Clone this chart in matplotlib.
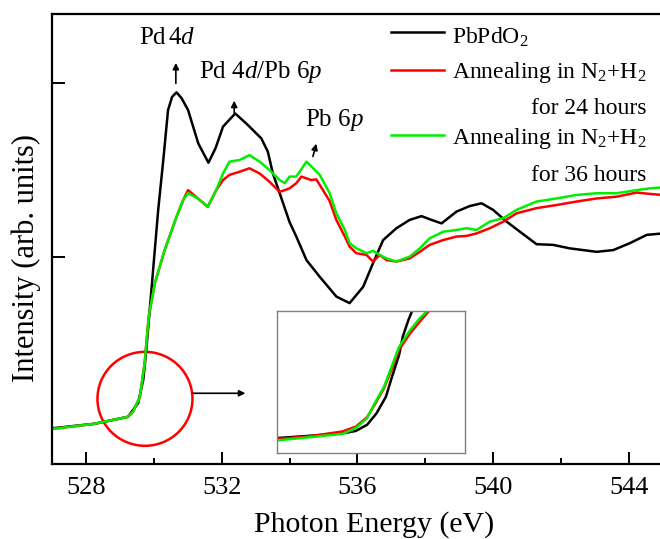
import matplotlib
matplotlib.use("Agg")
import matplotlib.pyplot as plt
from matplotlib.patches import Ellipse
from matplotlib.lines import Line2D

plt.rcParams['font.family'] = ['Liberation Serif', 'DejaVu Serif']
plt.rcParams['mathtext.fontset'] = 'custom'
plt.rcParams['mathtext.rm'] = 'Liberation Serif'
plt.rcParams['mathtext.it'] = 'Liberation Serif:italic'

# PbPdO2 (black)
e_pbpdo2 = [527.0, 528.25, 529.24, 529.54, 529.69, 529.78, 530.13, 530.28, 530.42, 530.54,
            530.67, 530.82, 531.01, 531.31, 531.61, 531.82, 532.04, 532.40, 532.77, 533.17,
            533.36, 533.51, 533.71, 534.00, 534.20, 534.50, 534.89, 535.38, 535.77, 536.17,
            536.46, 536.76, 537.15, 537.54, 537.89, 538.13, 538.48, 538.92, 539.31, 539.66,
            540.00, 540.40, 540.79, 541.28, 541.77, 542.26, 543.05, 543.54, 544.03, 544.53, 545.0]
i_pbpdo2 = [0.005, 0.018, 0.038, 0.078, 0.145, 0.231, 0.635, 0.779, 0.923, 0.961,
            0.974, 0.957, 0.923, 0.827, 0.771, 0.813, 0.875, 0.913, 0.880, 0.841,
            0.803, 0.740, 0.683, 0.600, 0.558, 0.490, 0.442, 0.385, 0.366, 0.413,
            0.481, 0.548, 0.582, 0.606, 0.617, 0.608, 0.596, 0.630, 0.646, 0.654,
            0.635, 0.601, 0.572, 0.536, 0.534, 0.524, 0.514, 0.519, 0.539, 0.563, 0.567]

# N2+H2, 24 h (red)
e_24h = [527.0, 528.25, 529.24, 529.39, 529.59, 529.73, 529.85, 530.03, 530.32, 530.67,
         530.87, 531.01, 531.30, 531.59, 531.84, 532.04, 532.23, 532.53, 532.82, 533.12,
         533.41, 533.71, 533.86, 534.00, 534.20, 534.35, 534.64, 534.79, 535.18, 535.38,
         535.63, 535.77, 535.97, 536.27, 536.46, 536.66, 536.86, 537.15, 537.54, 537.84,
         538.13, 538.53, 538.92, 539.22, 539.51, 539.90, 540.30, 540.69, 541.28, 541.87,
         542.46, 543.05, 543.64, 544.23, 544.62, 545.0]
i_24h = [0.003, 0.018, 0.038, 0.053, 0.096, 0.193, 0.327, 0.423, 0.519, 0.615,
         0.664, 0.692, 0.668, 0.644, 0.692, 0.721, 0.736, 0.745, 0.755, 0.740,
         0.716, 0.687, 0.692, 0.697, 0.712, 0.731, 0.721, 0.723, 0.661, 0.606,
         0.558, 0.529, 0.510, 0.505, 0.486, 0.505, 0.490, 0.486, 0.495, 0.514,
         0.534, 0.548, 0.558, 0.560, 0.567, 0.582, 0.601, 0.625, 0.640, 0.649,
         0.659, 0.668, 0.673, 0.685, 0.681, 0.678]

# N2+H2, 36 h (green)
e_36h = [527.0, 528.25, 529.24, 529.39, 529.59, 529.73, 529.85, 530.03, 530.32, 530.67,
         530.87, 531.01, 531.30, 531.59, 531.84, 532.04, 532.23, 532.53, 532.82, 533.12,
         533.41, 533.71, 533.86, 534.00, 534.20, 534.50, 534.89, 535.18, 535.38, 535.63,
         535.77, 535.97, 536.27, 536.46, 536.66, 536.86, 537.15, 537.54, 537.84, 538.13,
         538.53, 538.92, 539.22, 539.51, 539.90, 540.30, 540.69, 541.28, 541.87, 542.46,
         543.05, 543.64, 544.23, 544.62, 545.0]
i_36h = [0.003, 0.018, 0.038, 0.053, 0.096, 0.193, 0.327, 0.423, 0.519, 0.615,
         0.664, 0.683, 0.668, 0.644, 0.692, 0.740, 0.774, 0.779, 0.793, 0.774,
         0.750, 0.721, 0.712, 0.731, 0.731, 0.774, 0.736, 0.684, 0.625, 0.577,
         0.539, 0.524, 0.510, 0.517, 0.505, 0.495, 0.486, 0.500, 0.524, 0.553,
         0.572, 0.577, 0.582, 0.577, 0.601, 0.611, 0.635, 0.659, 0.668, 0.678,
         0.683, 0.683, 0.692, 0.697, 0.700]

# inset: pre-edge region, zoomed
ins_e_black = [528.80, 528.98, 529.15, 529.22, 529.28, 529.33, 529.38, 529.41, 529.45, 529.47, 529.50, 529.52]
ins_i_black = [0.032, 0.037, 0.042, 0.047, 0.060, 0.084, 0.119, 0.158, 0.207, 0.246, 0.281, 0.300]
ins_e_red = [528.80, 528.98, 529.15, 529.22, 529.28, 529.32, 529.37, 529.42, 529.45, 529.51, 529.56, 529.61]
ins_i_red = [0.030, 0.036, 0.046, 0.056, 0.076, 0.102, 0.137, 0.186, 0.218, 0.253, 0.277, 0.300]
ins_e_green = [528.80, 528.98, 529.15, 529.22, 529.28, 529.32, 529.37, 529.41, 529.45, 529.51, 529.56, 529.60]
ins_i_green = [0.027, 0.034, 0.041, 0.053, 0.074, 0.105, 0.140, 0.182, 0.224, 0.260, 0.284, 0.300]

c_black, c_red, c_green = 'black', '#ff0000', '#00ee00'
lw = 1.8

fig = plt.figure(figsize=(6.6, 5.39), dpi=100)
# the frame runs past the right edge of the picture (right spine cut off)
ax = fig.add_axes([52 / 660, 1 - 464 / 539, 644.7 / 660, 450 / 539])

ax.plot(e_pbpdo2, i_pbpdo2, color=c_black, lw=lw)
ax.plot(e_24h, i_24h, color=c_red, lw=lw)
ax.plot(e_36h, i_36h, color=c_green, lw=lw)

ax.set_xlim(527, 546)
ax.set_ylim(-0.098, 1.2)
ax.set_xticks([528, 532, 536, 540, 544])
ax.set_xticks([530, 534, 538, 542], minor=True)
ax.set_yticks([0.5, 1.0])
ax.set_yticklabels([])
ax.tick_params(axis='both', which='major', direction='in', length=9, width=1.4, labelsize=19)
ax.tick_params(axis='both', which='minor', direction='in', length=4.5, width=1.4)
ax.tick_params(axis='x', pad=9)
for s in ['left', 'bottom', 'top']:
    ax.spines[s].set_linewidth(1.6)
ax.spines['right'].set_visible(False)

ax.set_xlabel('Photon Energy (eV)', fontsize=21.5, labelpad=9)
ax.set_ylabel('Intensity (arb. units)', fontsize=22)
ax.yaxis.set_label_coords(-0.017, 0.458)

# peak labels
ax.text(530.39, 1.113, 'Pd$\\,$4$\\it{d}$', fontsize=18, ha='center', va='baseline')
ax.text(533.15, 1.015, 'Pd 4$\\it{d}$/Pb 6$\\it{p}$', fontsize=18, ha='center', va='baseline')
ax.text(535.33, 0.877, 'Pb 6$\\it{p}$', fontsize=18, ha='center', va='baseline')
arrow = dict(arrowstyle='-|>', lw=1.2, color='black', mutation_scale=9, shrinkA=0, shrinkB=0)
ax.annotate('', xy=(530.65, 1.059), xytext=(530.65, 1.0), arrowprops=arrow)
ax.annotate('', xy=(532.37, 0.95), xytext=(532.37, 0.91), arrowprops=arrow)
ax.annotate('', xy=(534.79, 0.826), xytext=(534.69, 0.789), arrowprops=arrow)

# legend drawn by hand
leg_x = [536.98, 538.55]
ax.add_line(Line2D(leg_x, [1.148, 1.148], color=c_black, lw=lw))
ax.add_line(Line2D(leg_x, [1.038, 1.038], color=c_red, lw=lw))
ax.add_line(Line2D(leg_x, [0.851, 0.851], color=c_green, lw=lw))
ax.text(538.78, 1.134, 'PbPdO$_2$', fontsize=17, ha='left', va='center')
ax.text(538.78, 1.030, 'Annealing in N$_2$+H$_2$', fontsize=17, ha='left', va='center')
ax.text(544.53, 0.926, 'for 24 hours', fontsize=17, ha='right', va='center')
ax.text(538.78, 0.842, 'Annealing in N$_2$+H$_2$', fontsize=17, ha='left', va='center')
ax.text(544.53, 0.733, 'for 36 hours', fontsize=17, ha='right', va='center')

# circle marking the pre-edge and arrow to inset
circ = Ellipse((529.74, 0.090), width=95 / 33.93, height=94 / 346.8, fill=False,
               edgecolor=c_red, lw=1.8)
ax.add_patch(circ)
ax.annotate('', xy=(532.7, 0.106), xytext=(531.14, 0.106),
            arrowprops=dict(arrowstyle='-|>', lw=1.2, color='black', mutation_scale=9,
                            shrinkA=0, shrinkB=0))

# inset
axi = fig.add_axes([276.7 / 660, 1 - 453.3 / 539, 188.3 / 660, 142.6 / 539])
axi.plot(ins_e_black, ins_i_black, color=c_black, lw=lw)
axi.plot(ins_e_red, ins_i_red, color=c_red, lw=lw)
axi.plot(ins_e_green, ins_i_green, color=c_green, lw=lw)
axi.set_xlim(528.8, 529.8)
axi.set_ylim(0.0, 0.3)
axi.set_xticks([])
axi.set_yticks([])
for s in axi.spines.values():
    s.set_edgecolor('#808080')
    s.set_linewidth(1.0)

fig.savefig('out.png', dpi=100)
